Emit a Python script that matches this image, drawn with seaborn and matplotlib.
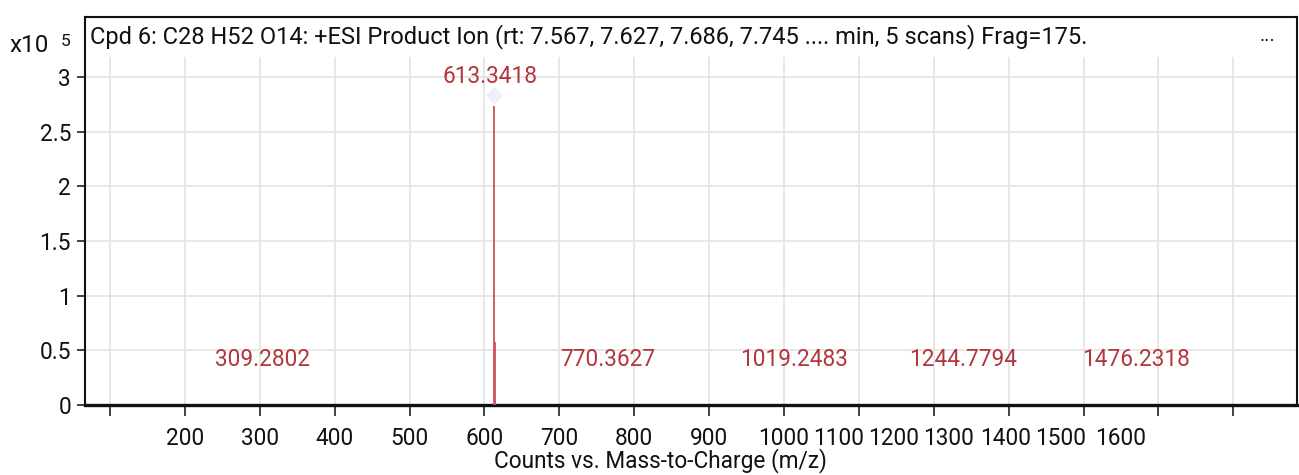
import matplotlib
matplotlib.use("Agg")
import matplotlib.pyplot as plt
import seaborn as sns
import pandas as pd
import numpy as np
from matplotlib.patches import Rectangle

# peak list (m/z, counts in units of 1e5)
peak_mz = [309.2802, 613.3418, 614.35, 770.3627, 1019.2483, 1244.7794, 1476.2318]
peak_counts = [0.004, 2.74, 0.58, 0.004, 0.003, 0.003, 0.003]
labelled_mz = [309.2802, 613.3418, 770.3627, 1019.2483, 1244.7794, 1476.2318]

x_ticks = [100, 200, 300, 400, 500, 600, 700, 800, 900, 1000, 1100, 1200, 1300, 1400, 1500, 1600]
# the instrument software squeezes the labels above 1000, keep them where they show up
x_label_pos = [200, 300, 400, 500, 600, 700, 800, 900, 1000, 1073, 1147, 1220, 1296, 1370, 1449]
x_label_txt = ["200", "300", "400", "500", "600", "700", "800", "900",
               "1000", "1100", "1200", "1300", "1400", "1500", "1600"]
y_ticks = [0, 0.5, 1, 1.5, 2, 2.5, 3]
y_tick_txt = ["0", "0.5", "1", "1.5", "2", "2.5", "3"]

title = "Cpd 6: C28 H52 O14: +ESI Product Ion (rt: 7.567, 7.627, 7.686, 7.745 .... min, 5 scans) Frag=175."

sns.set_theme(style="whitegrid")
plt.rcParams['font.family'] = ['Roboto', 'DejaVu Sans']

peaks = pd.DataFrame({"mz": peak_mz, "counts": peak_counts})
red_line = "#cc525b"
red_text = "#b3363c"
fs = 16.3

fig = plt.figure(figsize=(12.99, 4.75), dpi=100)
ax = fig.add_axes([85 / 1299, (475 - 405) / 475, 1212 / 1299, 388 / 475])

ax.set_xlim(66.6, 1685)
ax.set_ylim(0, 3.55)
ax.set_axisbelow(True)
ax.grid(True, color="#e3e3e3", linewidth=1.2)

# no gridlines behind the title strip
ax.add_patch(Rectangle((0, 0.897), 1, 0.103, transform=ax.transAxes,
                       facecolor="white", edgecolor="none", zorder=1))

ax.vlines(peaks["mz"], 0, peaks["counts"], color=red_line, linewidth=1.3, zorder=3)

top = peaks.loc[peaks["counts"].idxmax()]
sns.scatterplot(x=[top["mz"]], y=[top["counts"] + 0.09], marker="D", s=80,
                color="#edf0fc", edgecolor="none", ax=ax, zorder=3)

for mz in labelled_mz:
    c = peaks.loc[(peaks["mz"] - mz).abs().idxmin(), "counts"]
    ly = c + 0.27 if c > 1 else 0.42
    ax.text(mz - 6, ly, f"{mz:.4f}", color=red_text, fontsize=fs,
            ha="center", va="center", zorder=4)

ax.text(0.004, 0.95, title, transform=ax.transAxes, fontsize=17.0,
        ha="left", va="center", color="#111111", zorder=4)
ax.text(0.976, 0.95, "...", transform=ax.transAxes, fontsize=14,
        ha="center", va="center", color="#111111", zorder=4)

ax.xaxis.set_remove_overlapping_locs(False)
ax.set_xticks(x_ticks)
ax.set_xticklabels([""] * len(x_ticks))
ax.set_xticks(x_label_pos, minor=True)
ax.set_xticklabels(x_label_txt, minor=True)
ax.tick_params(axis="x", which="major", bottom=True, length=8, width=1.2,
               color="#222222", direction="out")
ax.tick_params(axis="x", which="minor", bottom=True, length=0, pad=16,
               labelsize=fs, labelcolor="#111111")
ax.xaxis.grid(False, which="minor")

ax.set_yticks(y_ticks)
ax.set_yticklabels(y_tick_txt)
ax.tick_params(axis="y", left=True, length=6, width=1.2, color="#222222",
               labelsize=fs, labelcolor="#111111", pad=4)

for side in ["top", "right", "left"]:
    ax.spines[side].set_color("#111111")
    ax.spines[side].set_linewidth(1.5)
ax.spines["bottom"].set_color("#111111")
ax.spines["bottom"].set_linewidth(2.4)

ax.set_xlabel("Counts vs. Mass-to-Charge (m/z)", fontsize=fs, color="#111111")
ax.xaxis.set_label_coords(0.475, -0.112)
ax.set_ylabel("")

fig.text(9 / 1299, 1 - 46 / 475, "x10", fontsize=17.5, ha="left", va="center", color="#111111")
fig.text(66 / 1299, 1 - 41 / 475, "5", fontsize=12.5, ha="center", va="center", color="#111111")

fig.savefig("out.png", dpi=100, facecolor="white")
